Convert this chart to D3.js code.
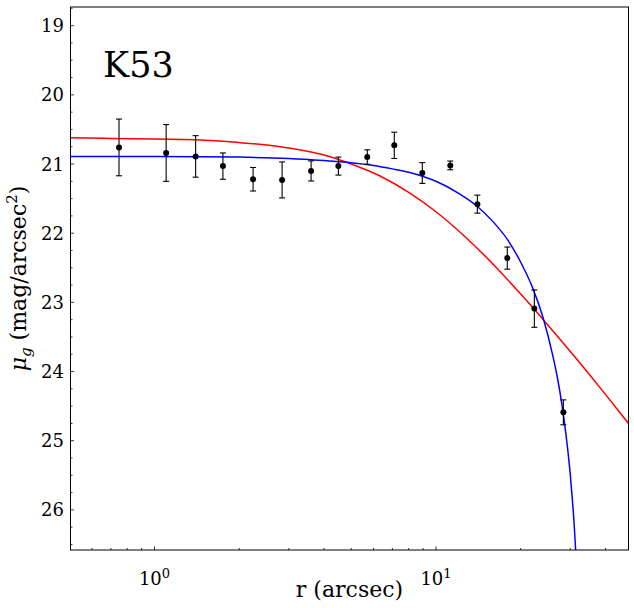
<!DOCTYPE html>
<html>
<head>
<meta charset="utf-8">
<script src="https://cdn.jsdelivr.net/npm/d3@7"></script>
<style>
  body { margin: 0; background: #fff; }
  svg text { font-family: 'DejaVu Serif', serif; fill: #000; }
</style>
</head>
<body>
<div id="chart"></div>
<script>
// measured profile of K53
let radius = [0.748, 1.10, 1.40, 1.75, 2.24, 2.84, 3.60, 4.50, 5.70, 7.11, 8.94, 11.24, 14.03, 17.92, 22.36, 28.35]
let mag = [20.76, 20.84, 20.89, 21.03, 21.22, 21.23, 21.10, 21.03, 20.90, 20.73, 21.13, 21.02, 21.58, 22.36, 23.09, 24.59]
let magErr = [0.41, 0.41, 0.30, 0.19, 0.17, 0.26, 0.145, 0.13, 0.105, 0.19, 0.15, 0.063, 0.13, 0.16, 0.27, 0.18]

// red fit
let redR = [0.5, 0.7, 1.0, 1.4, 2.0, 2.8, 4.0, 5.0, 6.3, 8.0, 10, 12.6, 15.8, 20, 25, 31.6, 40, 48.3]
let redMag = [20.62, 20.63, 20.64, 20.65, 20.69, 20.75, 20.87, 21.00, 21.17, 21.41, 21.69, 22.04, 22.43, 22.88, 23.33, 23.82, 24.33, 24.75]

// blue fit
let blueR = [0.5, 1, 2, 3, 4, 5, 6, 7, 8, 9, 10, 12, 14, 16, 18, 20, 22, 24, 26, 27, 28, 29, 30, 30.5, 31, 31.5]
let blueMag = [20.89, 20.89, 20.90, 20.92, 20.95, 20.98, 21.02, 21.07, 21.12, 21.18, 21.25, 21.42, 21.61, 21.84, 22.10, 22.42, 22.78, 23.22, 23.77, 24.09, 24.47, 24.93, 25.49, 25.84, 26.24, 26.74]

let yTicks = [19, 20, 21, 22, 23, 24, 25, 26]
let xTicks = [1, 10]
let xTickExp = ['0', '1']

let margin = { top: 7, left: 70.5, right: 5.5, bottom: 58 }
let width = 634 - margin.left - margin.right
let height = 608 - margin.top - margin.bottom

let svg = d3
  .select('#chart')
  .append('svg')
  .attr('width', 634)
  .attr('height', 608)
  .append('g')
  .attr('transform', 'translate(' + margin.left + ',' + margin.top + ')')

let xScale = d3.scaleLog().domain([0.503, 48.3]).range([0, width])
let yScale = d3.scaleLinear().domain([18.73, 26.58]).range([0, height])

svg.append('clipPath')
  .attr('id', 'clip')
  .append('rect')
  .attr('width', width)
  .attr('height', height)

// ticks point inward, left and bottom only
let xMinor = []
;[0.1, 1, 10].forEach(dec => {
  for (let k = 2; k <= 9; k++) xMinor.push(dec * k)
})
xMinor = xMinor.filter(v => v > 0.503 && v < 48.3)

svg.selectAll('.x-minor')
  .data(xMinor)
  .enter()
  .append('line')
  .attr('x1', d => xScale(d))
  .attr('x2', d => xScale(d))
  .attr('y1', height)
  .attr('y2', height - 2)
  .attr('stroke', 'black')
  .attr('stroke-width', 0.8)

svg.selectAll('.x-major')
  .data(xTicks)
  .enter()
  .append('line')
  .attr('x1', d => xScale(d))
  .attr('x2', d => xScale(d))
  .attr('y1', height)
  .attr('y2', height - 3.5)
  .attr('stroke', 'black')
  .attr('stroke-width', 0.8)

let xLabels = svg.selectAll('.x-label')
  .data(xTicks)
  .enter()
  .append('text')
  .attr('x', d => xScale(d))
  .attr('y', height + 35)
  .attr('text-anchor', 'middle')
  .attr('font-size', 18)

xLabels.append('tspan').text('10')
xLabels.append('tspan')
  .text((d, i) => xTickExp[i])
  .attr('dy', -7)
  .attr('font-size', 13)

let yMinor = d3.range(18.75, 26.58, 0.25).filter(v => Math.abs(v - Math.round(v)) > 0.01)

svg.selectAll('.y-minor')
  .data(yMinor)
  .enter()
  .append('line')
  .attr('x1', 0)
  .attr('x2', 2)
  .attr('y1', d => yScale(d))
  .attr('y2', d => yScale(d))
  .attr('stroke', 'black')
  .attr('stroke-width', 0.8)

svg.selectAll('.y-major')
  .data(yTicks)
  .enter()
  .append('line')
  .attr('x1', 0)
  .attr('x2', 3.5)
  .attr('y1', d => yScale(d))
  .attr('y2', d => yScale(d))
  .attr('stroke', 'black')
  .attr('stroke-width', 0.8)

svg.selectAll('.y-label')
  .data(yTicks)
  .enter()
  .append('text')
  .text(d => d)
  .attr('x', -6.5)
  .attr('y', d => yScale(d))
  .attr('dy', '0.36em')
  .attr('text-anchor', 'end')
  .attr('font-size', 18)

// model curves
let line = d3.line()
  .x(d => xScale(d[0]))
  .y(d => yScale(d[1]))
  .curve(d3.curveMonotoneX)

let curves = svg.append('g').attr('clip-path', 'url(#clip)')

curves.append('path')
  .datum(d3.zip(redR, redMag))
  .attr('d', line)
  .attr('fill', 'none')
  .attr('stroke', '#ff0000')
  .attr('stroke-width', 1.5)

curves.append('path')
  .datum(d3.zip(blueR, blueMag))
  .attr('d', line)
  .attr('fill', 'none')
  .attr('stroke', '#0000ff')
  .attr('stroke-width', 1.5)

// data with error bars
let points = radius.map((r, i) => ({ r: r, m: mag[i], e: magErr[i] }))

let bars = svg.append('g')
  .selectAll('.errbar')
  .data(points)
  .enter()
  .append('g')
  .attr('class', 'errbar')
  .attr('stroke', 'black')
  .attr('stroke-width', 1.1)

bars.append('line')
  .attr('x1', d => xScale(d.r))
  .attr('x2', d => xScale(d.r))
  .attr('y1', d => yScale(d.m - d.e))
  .attr('y2', d => yScale(d.m + d.e))

bars.append('line')
  .attr('x1', d => xScale(d.r) - 3)
  .attr('x2', d => xScale(d.r) + 3)
  .attr('y1', d => yScale(d.m - d.e))
  .attr('y2', d => yScale(d.m - d.e))

bars.append('line')
  .attr('x1', d => xScale(d.r) - 3)
  .attr('x2', d => xScale(d.r) + 3)
  .attr('y1', d => yScale(d.m + d.e))
  .attr('y2', d => yScale(d.m + d.e))

svg.selectAll('.dot')
  .data(points)
  .enter()
  .append('circle')
  .attr('cx', d => xScale(d.r))
  .attr('cy', d => yScale(d.m))
  .attr('r', 3)
  .attr('fill', 'black')

// frame
svg.append('rect')
  .attr('width', width)
  .attr('height', height)
  .attr('fill', 'none')
  .attr('stroke', 'black')
  .attr('stroke-width', 1)

svg.append('text')
  .text('K53')
  .attr('x', 103 - margin.left)
  .attr('y', 77 - margin.top)
  .attr('font-size', 35)

svg.append('text')
  .text('r (arcsec)')
  .attr('x', width / 2)
  .attr('y', height + 47)
  .attr('text-anchor', 'middle')
  .attr('font-size', 22)

let yTitle = svg.append('text')
  .attr('transform', 'translate(' + (-45) + ',' + (height / 2) + ') rotate(-90)')
  .attr('text-anchor', 'middle')
  .attr('font-size', 22)

yTitle.append('tspan').text('μ').attr('font-style', 'italic')
yTitle.append('tspan').text('g').attr('font-style', 'italic').attr('font-size', 15).attr('dy', 5)
yTitle.append('tspan').text(' (mag/arcsec').attr('dy', -5)
yTitle.append('tspan').text('2').attr('font-size', 15).attr('dy', -9)
yTitle.append('tspan').text(')').attr('dy', 9)
</script>
</body>
</html>
